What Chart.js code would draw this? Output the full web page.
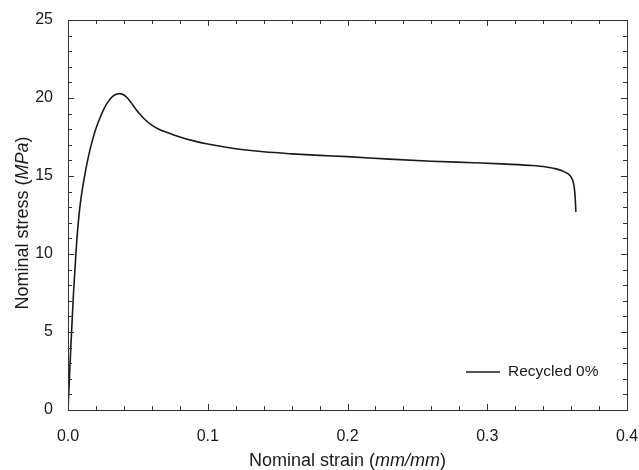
<!DOCTYPE html>
<html>
<head>
<meta charset="utf-8">
<script src="https://cdn.jsdelivr.net/npm/chart.js@4"></script>
<style>
  html, body { margin: 0; padding: 0; background: #fff; }
  #wrap { width: 639px; height: 470px; position: relative; }
</style>
</head>
<body>
<div id="wrap"><canvas id="chart" width="639" height="470"></canvas></div>
<script>
// === data ===
const strain = [0, 0.002, 0.004, 0.006, 0.008, 0.010, 0.0125, 0.015, 0.0175, 0.020, 0.023,
  0.026, 0.029, 0.032, 0.035, 0.037, 0.039, 0.042, 0.045, 0.048, 0.051, 0.055, 0.060,
  0.065, 0.070, 0.080, 0.090, 0.100, 0.120, 0.140, 0.160, 0.180, 0.200, 0.230, 0.260,
  0.290, 0.310, 0.330, 0.342, 0.350, 0.355, 0.359, 0.361, 0.3622, 0.3630, 0.3634];
const stress = [0, 4.0, 7.6, 10.5, 12.6, 14.0, 15.3, 16.4, 17.3, 18.05, 18.75,
  19.35, 19.8, 20.1, 20.25, 20.28, 20.24, 20.05, 19.72, 19.35, 19.0, 18.62, 18.26,
  18.0, 17.82, 17.5, 17.25, 17.05, 16.75, 16.55, 16.42, 16.32, 16.24, 16.08, 15.95,
  15.85, 15.78, 15.68, 15.58, 15.44, 15.28, 15.05, 14.75, 14.3, 13.5, 12.7];
const seriesLabel = 'Recycled 0%';
const xTicks = [0, 0.1, 0.2, 0.3, 0.4];
const yTicks = [0, 5, 10, 15, 20, 25];

const FONT = '"Liberation Sans", Arial, sans-serif';
const INK = '#1a1a1a';

// frame + inward ticks on all four sides, legend and axis titles
const framePlugin = {
  id: 'frame',
  afterDraw(chart) {
    const { ctx, chartArea: a, scales } = chart;
    ctx.save();
    ctx.strokeStyle = '#333';
    ctx.lineWidth = 1;
    ctx.strokeRect(a.left + 0.5, a.top + 0.5, a.right - a.left, a.bottom - a.top);
    ctx.beginPath();
    for (let i = 0; i <= 20; i++) {
      const px = Math.round(scales.x.getPixelForValue(i * 0.02)) + 0.5;
      const len = i % 5 === 0 ? 6 : 4;
      ctx.moveTo(px, a.bottom); ctx.lineTo(px, a.bottom - len);
      ctx.moveTo(px, a.top); ctx.lineTo(px, a.top + len);
    }
    for (let i = 0; i <= 25; i++) {
      const py = Math.round(scales.y.getPixelForValue(i)) + 0.5;
      const len = i % 5 === 0 ? 6 : 4;
      ctx.moveTo(a.left, py); ctx.lineTo(a.left + len, py);
      ctx.moveTo(a.right, py); ctx.lineTo(a.right - len, py);
    }
    ctx.stroke();

    // legend inside plot
    ctx.strokeStyle = INK;
    ctx.lineWidth = 1.5;
    ctx.beginPath();
    ctx.moveTo(466, 372); ctx.lineTo(500, 372);
    ctx.stroke();
    ctx.fillStyle = INK;
    ctx.font = '15.5px ' + FONT;
    ctx.textBaseline = 'middle';
    ctx.fillText(seriesLabel, 508, 372);

    // axis titles with italic units
    const drawParts = (parts, cx, cy) => {
      let w = 0;
      parts.forEach(p => { ctx.font = p[1] + '18px ' + FONT; w += ctx.measureText(p[0]).width; });
      let x = cx - w / 2;
      parts.forEach(p => {
        ctx.font = p[1] + '18px ' + FONT;
        ctx.fillText(p[0], x, cy);
        x += ctx.measureText(p[0]).width;
      });
    };
    ctx.textBaseline = 'alphabetic';
    drawParts([['Nominal strain (', ''], ['mm/mm', 'italic '], [')', '']], (a.left + a.right) / 2, 466);
    ctx.save();
    ctx.translate(28, (a.top + a.bottom) / 2 + 8);
    ctx.rotate(-Math.PI / 2);
    drawParts([['Nominal stress (', ''], ['MPa', 'italic '], [')', '']], 0, 0);
    ctx.restore();
    ctx.restore();
  }
};

const points = strain.map((s, i) => ({ x: s, y: stress[i] }));

new Chart(document.getElementById('chart'), {
  type: 'line',
  data: {
    datasets: [{
      label: seriesLabel,
      data: points,
      borderColor: INK,
      borderWidth: 1.6,
      pointRadius: 0,
      fill: false,
      cubicInterpolationMode: 'monotone'
    }]
  },
  options: {
    responsive: false,
    animation: false,
    layout: { padding: { left: 0, top: 20, right: 12, bottom: 0 } },
    plugins: { legend: { display: false }, tooltip: { enabled: false } },
    scales: {
      x: {
        type: 'linear',
        min: 0, max: 0.4,
        afterBuildTicks: s => { s.ticks = xTicks.map(v => ({ value: v })); },
        afterFit: s => { s.height = 60; s.paddingLeft = 0; s.paddingRight = 0; },
        grid: { display: false },
        border: { display: false },
        ticks: { color: INK, font: { family: FONT, size: 16 }, padding: 9, maxRotation: 0,
          callback: v => v.toFixed(1) }
      },
      y: {
        min: 0, max: 25,
        afterBuildTicks: s => { s.ticks = yTicks.map(v => ({ value: v })); },
        afterFit: s => { s.width = 68; s.paddingTop = 0; s.paddingBottom = 0; },
        grid: { display: false },
        border: { display: false },
        ticks: { color: INK, font: { family: FONT, size: 16 }, padding: 7 }
      }
    }
  },
  plugins: [framePlugin]
});
</script>
</body>
</html>
